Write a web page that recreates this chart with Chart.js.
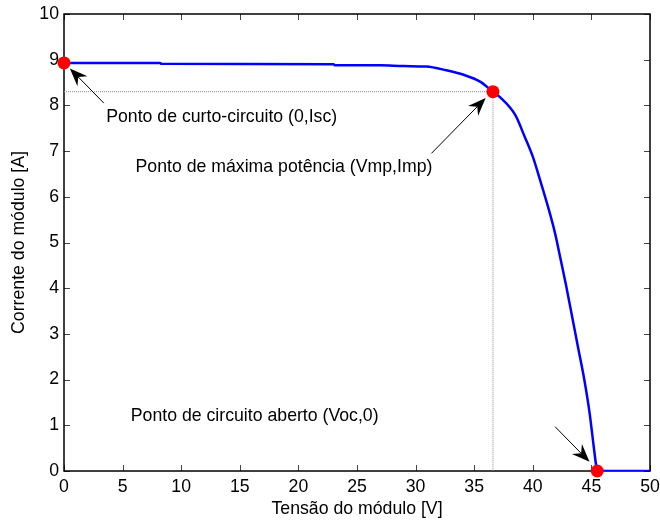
<!DOCTYPE html>
<html lang="pt">
<head>
    <meta charset="UTF-8">
    <title>Curva I-V do módulo</title>
    <style>
        body {
            margin: 0;
            background-color: #fff;
        }
        canvas {
            display: block;
        }
    </style>
</head>
<body>
    <canvas id="ivChart" width="660" height="522"></canvas>

    <script src="https://cdn.jsdelivr.net/npm/chart.js"></script>
    <script>
        // Curva I-V: tensão [V] e corrente [A]
        const voltage = [0, 8.2, 8.3, 23, 23.1, 27, 29, 30.9, 32.6, 34.1, 35.5, 36.6, 37.2, 38.5, 39.3, 40.0, 40.7,
                         41.3, 41.9, 42.4, 42.85, 43.3, 43.85, 44.4, 44.85, 45.2, 45.4, 45.5, 50];
        const current = [8.93, 8.93, 8.91, 8.90, 8.88, 8.88, 8.86, 8.85, 8.77, 8.67, 8.52, 8.30, 8.18, 7.79, 7.32, 6.88, 6.30,
                         5.78, 5.20, 4.60, 4.05, 3.45, 2.72, 1.99, 1.26, 0.53, 0.13, 0, 0];

        // Pontos notáveis: curto-circuito, máxima potência, circuito aberto
        const keyV = [0, 36.6, 45.5];
        const keyI = [8.93, 8.30, 0];
        const keyLabels = ['Ponto de curto-circuito (0,Isc)', 'Ponto de máxima potência (Vmp,Imp)', 'Ponto de circuito aberto (Voc,0)'];

        const xTicks = [0, 5, 10, 15, 20, 25, 30, 35, 40, 45, 50];
        const yTicks = [0, 1, 2, 3, 4, 5, 6, 7, 8, 9, 10];

        const FONT = { family: 'Arial, "Liberation Sans", sans-serif', size: 17.7 };

        const curve = voltage.map((v, i) => ({ x: v, y: current[i] }));
        const mpV = keyV[1], mpI = keyI[1];

        // Caixa dos eixos com marcas para dentro, como no MATLAB
        const boxPlugin = {
            id: 'axisBox',
            beforeDatasetsDraw(chart) {
                const { ctx, chartArea: a, scales: { x, y } } = chart;
                ctx.save();
                ctx.strokeStyle = '#444';
                ctx.lineWidth = 1;
                const len = 6;
                xTicks.forEach(t => {
                    const px = Math.round(x.getPixelForValue(t)) + 0.5;
                    ctx.beginPath();
                    ctx.moveTo(px, a.bottom); ctx.lineTo(px, a.bottom - len);
                    ctx.moveTo(px, a.top); ctx.lineTo(px, a.top + len);
                    ctx.stroke();
                });
                yTicks.forEach(t => {
                    const py = Math.round(y.getPixelForValue(t)) + 0.5;
                    ctx.beginPath();
                    ctx.moveTo(a.left, py); ctx.lineTo(a.left + len, py);
                    ctx.moveTo(a.right, py); ctx.lineTo(a.right - len, py);
                    ctx.stroke();
                });
                ctx.strokeStyle = '#000';
                ctx.lineWidth = 1.5;
                ctx.strokeRect(a.left, a.top, a.right - a.left, a.bottom - a.top);
                ctx.restore();
            }
        };

        // Textos com setas apontando para os pontos notáveis
        const notes = [
            { text: keyLabels[0], tx: 3.6, ty: 7.75, from: [3.4, 8.05], to: [0.5, 8.81] },
            { text: keyLabels[1], tx: 6.1, ty: 6.66, from: [31.35, 6.95], to: [35.98, 8.16] },
            { text: keyLabels[2], tx: 5.7, ty: 1.2, from: [41.9, 0.97], to: [44.84, 0.2] }
        ];

        const notePlugin = {
            id: 'notes',
            afterDatasetsDraw(chart) {
                const { ctx, scales: { x, y } } = chart;
                ctx.save();
                ctx.font = `${FONT.size}px ${FONT.family}`;
                ctx.fillStyle = '#000';
                ctx.textAlign = 'left';
                ctx.textBaseline = 'middle';
                notes.forEach(n => {
                    ctx.fillText(n.text, x.getPixelForValue(n.tx), y.getPixelForValue(n.ty));
                    const x0 = x.getPixelForValue(n.from[0]), y0 = y.getPixelForValue(n.from[1]);
                    const x1 = x.getPixelForValue(n.to[0]), y1 = y.getPixelForValue(n.to[1]);
                    const ang = Math.atan2(y1 - y0, x1 - x0);
                    const dx = Math.cos(ang), dy = Math.sin(ang);
                    const L = 18, W = 7, notch = 6;
                    ctx.strokeStyle = '#000';
                    ctx.lineWidth = 1;
                    ctx.beginPath();
                    ctx.moveTo(x0, y0);
                    ctx.lineTo(x1 - dx * (L - notch), y1 - dy * (L - notch));
                    ctx.stroke();
                    ctx.beginPath();
                    ctx.moveTo(x1, y1);
                    ctx.lineTo(x1 - dx * L - dy * W, y1 - dy * L + dx * W);
                    ctx.lineTo(x1 - dx * (L - notch), y1 - dy * (L - notch));
                    ctx.lineTo(x1 - dx * L + dy * W, y1 - dy * L - dx * W);
                    ctx.closePath();
                    ctx.fill();
                });
                ctx.restore();
            }
        };

        new Chart(document.getElementById('ivChart'), {
            type: 'scatter',
            data: {
                datasets: [
                    {
                        // linhas pontilhadas até Vmp e Imp
                        data: [{ x: 0, y: mpI }, { x: mpV, y: mpI }, { x: NaN, y: NaN }, { x: mpV, y: mpI }, { x: mpV, y: 0 }],
                        showLine: true,
                        spanGaps: false,
                        borderColor: '#8a8a8a',
                        borderWidth: 1,
                        borderDash: [1, 1],
                        pointRadius: 0,
                        order: 3
                    },
                    {
                        data: curve,
                        showLine: true,
                        borderColor: '#0000ff',
                        borderWidth: 2.5,
                        pointRadius: 0,
                        cubicInterpolationMode: 'monotone',
                        order: 2
                    },
                    {
                        data: keyV.map((v, i) => ({ x: v, y: keyI[i] })),
                        showLine: false,
                        pointRadius: 6.5,
                        pointBackgroundColor: '#ff0000',
                        pointBorderColor: '#ff0000',
                        pointBorderWidth: 0,
                        clip: false,
                        order: 1
                    }
                ]
            },
            options: {
                responsive: false,
                animation: false,
                events: [],
                layout: { padding: { left: 0, right: 10, top: 14, bottom: 0 } },
                plugins: {
                    legend: { display: false },
                    tooltip: { enabled: false }
                },
                scales: {
                    x: {
                        type: 'linear',
                        min: 0,
                        max: 50,
                        afterFit: s => { s.height = 51; s.paddingLeft = 0; s.paddingRight = 0; },
                        afterBuildTicks: s => { s.ticks = xTicks.map(v => ({ value: v })); },
                        grid: { display: false, drawTicks: false },
                        border: { display: false },
                        ticks: { color: '#000', font: FONT, padding: 5, maxRotation: 0 },
                        title: {
                            display: true,
                            text: 'Tensão do módulo [V]',
                            color: '#000',
                            font: FONT,
                            padding: { top: 0, bottom: 2 }
                        }
                    },
                    y: {
                        type: 'linear',
                        min: 0,
                        max: 10,
                        afterFit: s => { s.width = 64; s.paddingTop = 0; s.paddingBottom = 0; },
                        afterBuildTicks: s => { s.ticks = yTicks.map(v => ({ value: v })); },
                        grid: { display: false, drawTicks: false },
                        border: { display: false },
                        ticks: { color: '#000', font: FONT, padding: 5 },
                        title: {
                            display: true,
                            text: 'Corrente do módulo [A]',
                            color: '#000',
                            font: FONT,
                            padding: { top: 8, bottom: 0 }
                        }
                    }
                }
            },
            plugins: [boxPlugin, notePlugin]
        });
    </script>
</body>
</html>
